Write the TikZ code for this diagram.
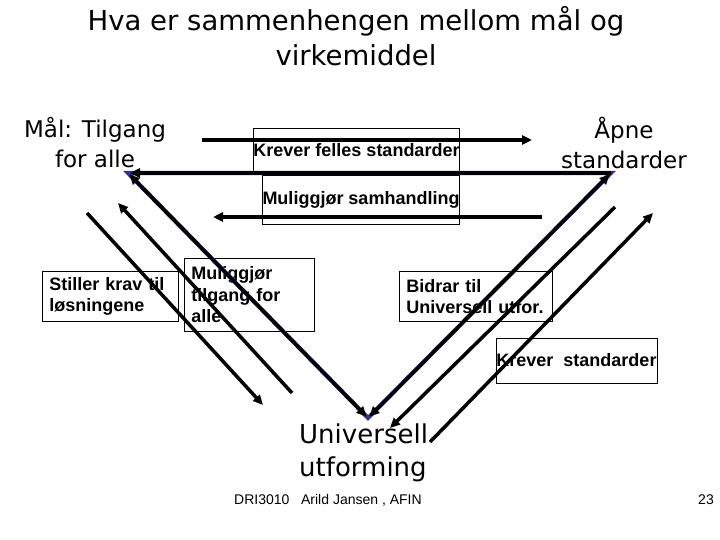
\documentclass[tikz,border=0pt]{standalone}
\usepackage{fontspec}
\setmainfont{Liberation Sans}
\newfontfamily\handfont{DejaVu Sans}
\usetikzlibrary{arrows.meta, positioning}
\definecolor{navyline}{RGB}{51,51,140}
\tikzstyle{box} = [
    rectangle, draw=black, line width=0.9pt, inner sep=0pt,
    font=\fontsize{18}{21.5}\selectfont\bfseries
]
\tikzstyle{leftbox} = [box, anchor=north west, align=left, inner xsep=7pt]
\tikzstyle{handtext} = [font=\handfont\fontsize{23}{30}\selectfont, inner sep=0pt]
\tikzstyle{arrow} = [-{Triangle[length=10pt, width=9pt]}, line width=3.5pt, draw=black]
\tikzstyle{twoway} = [{Triangle[length=10pt, width=9pt]}-{Triangle[length=10pt, width=9pt]},
    line width=3.5pt, draw=black, shorten <=2pt, shorten >=2pt]

\begin{document}
\begin{tikzpicture}[x=1pt, y=-1pt]
        \useasboundingbox (0,0) rectangle (720,540);

        % Title
        \node[handtext, font=\handfont\fontsize{27.5}{35}\selectfont, align=center] (title)
            at (356,36) {Hva er sammenhengen mellom mål og\\virkemiddel};

        % Corners of the triangle
        \node[handtext, align=center] (goal) at (95,143) {Mål: Tilgang\\for alle};
        \node[handtext, align=center] (open) at (624,143) {Åpne\\standarder};
        \node[handtext, font=\handfont\fontsize{26}{33}\selectfont, align=left,
              anchor=west] (design) at (299,453) {Universell\\utforming};

        \coordinate (L) at (128,173);
        \coordinate (R) at (611,173);
        \coordinate (B) at (368,418);

        % Free ends of the side arrows
        \coordinate (topS) at (202,140);
        \coordinate (topE) at (532,140);
        \coordinate (lowS) at (542,217);
        \coordinate (lowE) at (213,217);
        \coordinate (a1S) at (87,213);
        \coordinate (a1E) at (263,405);
        \coordinate (a2S) at (292,393);
        \coordinate (a2E) at (118,203);
        \coordinate (r2S) at (615,207);
        \coordinate (r2E) at (390,428);
        \coordinate (r3S) at (430,442);
        \coordinate (r3E) at (653,213);

        % Boxes
        \node[box, minimum width=187pt, minimum height=45pt] (common)
            at (356.5,150.5) {Krever felles standarder};
        \node[box, minimum width=188pt, minimum height=49pt] (cooperate)
            at (361,199.5) {Muliggjør samhandling};
        \node[leftbox, text width=122pt, minimum height=50pt] (demand)
            at (42,271) {Stiller krav til\\løsningene};
        \node[leftbox, text width=116pt, minimum height=73pt] (access)
            at (184,258) {Muliggjør\\tilgang for\\alle};
        \node[leftbox, text width=139pt, minimum height=50pt] (helps)
            at (399,271) {Bidrar til\\Universell utfor.};
        \node[box, minimum width=161pt, minimum height=45pt] (needstd)
            at (576.5,360.5) {Krever~~standarder};

        % Triangle
        \draw[navyline, line width=4.2pt, line join=miter] (L) -- (R) -- (B) -- cycle;

        % Arrows
        \draw[arrow] (topS) -- (topE);
        \draw[arrow] (lowS) -- (lowE);
        \draw[arrow, shorten >=2pt] (R) -- (L);
        \draw[twoway] (L) -- (B);
        \draw[twoway] (B) -- (R);
        \draw[arrow] (a1S) -- (a1E);
        \draw[arrow] (a2S) -- (a2E);
        \draw[arrow] (r2S) -- (r2E);
        \draw[arrow] (r3S) -- (r3E);

        % Footer
        \node[font=\fontsize{14}{16}\selectfont, anchor=west, inner sep=0pt] (credit)
            at (234,500) {DRI3010~~~Arild Jansen , AFIN};
        \node[font=\fontsize{14}{16}\selectfont, anchor=east, inner sep=0pt] (page)
            at (714,500) {23};
    \end{tikzpicture}
\end{document}
